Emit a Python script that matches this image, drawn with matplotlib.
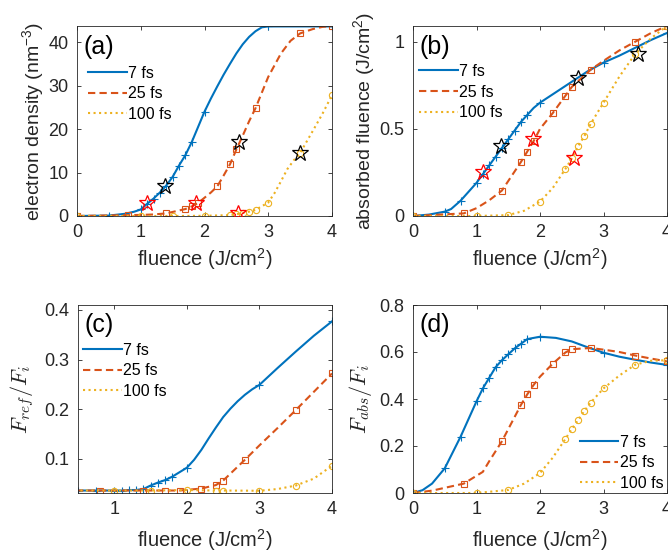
import numpy as np
import matplotlib
matplotlib.use("Agg")
import matplotlib.pyplot as plt

plt.rcParams['font.family'] = ['Liberation Sans', 'DejaVu Sans']
plt.rcParams['mathtext.fontset'] = 'cm'

blue = '#0072BD'
orange = '#D95319'
yellow = '#EDB120'
axcol = '#262626'
labels = ['7 fs', '25 fs', '100 fs']

# ---------------- (a) electron density ----------------
a7_x = [0, 0.5, 1.0, 1.1, 1.2, 1.3, 1.4, 1.5, 1.6, 1.7, 1.8, 2.0, 3.0, 4.0]
a7_y = [0, 0.1, 1.5, 2.8, 4.0, 5.4, 7.0, 9.0, 11.6, 14.0, 17.0, 24.0, 43.6, 43.6]
a7_cx = [0.75, 0.9, 1.9, 2.1, 2.2, 2.3, 2.4, 2.5, 2.6, 2.7, 2.8, 2.9]
a7_cy = [0.5, 1.0, 20.5, 27.0, 29.8, 32.5, 35.0, 37.4, 39.5, 41.2, 42.5, 43.4]

a25_x = [0, 0.8, 1.4, 1.7, 1.8, 1.9, 2.2, 2.4, 2.5, 2.8, 3.5, 4.0]
a25_y = [0, 0.2, 0.6, 1.6, 2.2, 3.0, 6.8, 11.9, 15.3, 24.8, 42.0, 43.7]
a25_cx = [1.0, 1.2, 2.0, 2.1, 2.3, 2.6, 2.7, 3.0, 3.2, 3.35, 3.7, 3.85]
a25_cy = [0.25, 0.35, 4.2, 5.4, 9.3, 18.5, 21.8, 32.0, 37.4, 40.3, 43.0, 43.5]

a100_x = [0, 1.0, 1.5, 2.0, 2.4, 2.5, 2.6, 2.7, 2.8, 3.0, 3.5, 4.0]
a100_y = [0, 0, 0, 0.05, 0.2, 0.4, 0.7, 1.0, 1.4, 3.1, 14.5, 27.8]
a100_cx = [3.1, 3.2, 3.3, 3.4, 3.7, 3.85]
a100_cy = [5.3, 8.0, 10.8, 12.8, 19.6, 23.5]

a_red_x = [1.1, 1.87, 2.53]
a_red_y = [3.1, 2.9, 0.8]
a_blk_x = [1.38, 2.54, 3.5]
a_blk_y = [7.0, 17.0, 14.5]

# ---------------- (b) absorbed fluence ----------------
b7_x = [0, 0.5, 0.75, 1.0, 1.1, 1.2, 1.3, 1.4, 1.5, 1.6, 1.7, 1.8, 2.0, 3.0, 4.0]
b7_y = [0, 0.025, 0.088, 0.19, 0.24, 0.29, 0.34, 0.39, 0.44, 0.49, 0.54, 0.58, 0.65, 0.88, 1.05]
b7_cx = [0.25, 0.6, 1.9, 2.25, 2.5, 2.75, 3.25, 3.5, 3.75]
b7_cy = [0.008, 0.04, 0.62, 0.71, 0.77, 0.83, 0.92, 0.965, 1.01]

b25_x = [0, 0.8, 1.4, 1.7, 1.8, 1.9, 2.2, 2.4, 2.5, 2.8, 3.5, 4.0]
b25_y = [0, 0.015, 0.146, 0.31, 0.37, 0.43, 0.59, 0.69, 0.74, 0.84, 1.0, 1.09]
b25_cx = [1.0, 1.2, 2.0, 2.65, 3.0, 3.25, 3.75]
b25_cy = [0.045, 0.09, 0.5, 0.79, 0.89, 0.95, 1.05]

b100_x = [0, 1.0, 1.5, 2.0, 2.4, 2.5, 2.6, 2.7, 2.8, 3.0, 3.5, 4.0]
b100_y = [0, 0, 0.005, 0.083, 0.27, 0.33, 0.40, 0.46, 0.53, 0.65, 0.93, 1.09]
b100_cx = [1.75, 2.2, 3.25, 3.75]
b100_cy = [0.03, 0.16, 0.8, 1.02]

b_red_x = [1.1, 1.89, 2.53]
b_red_y = [0.25, 0.44, 0.33]
b_blk_x = [1.38, 2.6, 3.54]
b_blk_y = [0.40, 0.79, 0.93]

# ---------------- (c) F_ref / F_i ----------------
c7_x = [0, 0.5, 0.75, 1.0, 1.1, 1.2, 1.3, 1.4, 1.5, 1.6, 1.7, 1.8, 2.0, 3.0, 4.0]
c7_y = [0.036, 0.036, 0.036, 0.036, 0.036, 0.037, 0.037, 0.039, 0.046, 0.052, 0.057, 0.064, 0.082, 0.249, 0.377]
c7_cx = [2.1, 2.2, 2.3, 2.4, 2.5, 2.6, 2.7, 2.8, 2.9, 3.25, 3.5, 3.75]
c7_cy = [0.098, 0.118, 0.141, 0.163, 0.184, 0.201, 0.216, 0.229, 0.24, 0.283, 0.316, 0.348]

c25_x = [0, 0.8, 1.4, 1.7, 1.9, 2.2, 2.4, 2.5, 2.8, 3.5, 4.0]
c25_y = [0.036, 0.036, 0.036, 0.036, 0.036, 0.040, 0.047, 0.056, 0.098, 0.198, 0.272]
c25_cx = [2.6, 3.0, 3.25, 3.75]
c25_cy = [0.07, 0.127, 0.162, 0.235]

c100_x = [0, 1.0, 1.5, 2.0, 2.4, 2.5, 3.0, 3.5, 4.0]
c100_y = [0.036, 0.036, 0.036, 0.037, 0.036, 0.036, 0.0355, 0.046, 0.086]
c100_cx = [3.25, 3.75]
c100_cy = [0.039, 0.06]

# ---------------- (d) F_abs / F_i ----------------
d7_x = [0, 0.5, 0.75, 1.0, 1.1, 1.2, 1.3, 1.4, 1.5, 1.6, 1.7, 1.8, 2.0, 3.0, 4.0]
d7_y = [0, 0.105, 0.24, 0.39, 0.445, 0.49, 0.535, 0.565, 0.59, 0.615, 0.635, 0.655, 0.665, 0.597, 0.545]
d7_cx = [0.15, 0.3, 0.9, 2.25, 2.5, 2.75, 3.25, 3.5, 3.75]
d7_cy = [0.012, 0.04, 0.33, 0.66, 0.645, 0.62, 0.58, 0.567, 0.555]

d25_x = [0, 0.8, 1.4, 1.7, 1.8, 1.9, 2.2, 2.4, 2.5, 2.8, 3.5, 4.0]
d25_y = [0, 0.04, 0.22, 0.375, 0.42, 0.46, 0.55, 0.598, 0.612, 0.617, 0.585, 0.56]
d25_cx = [0.3, 1.1, 1.2, 2.0, 3.0, 3.25, 3.75]
d25_cy = [0.01, 0.09, 0.135, 0.495, 0.61, 0.6, 0.572]

d100_x = [0, 1.0, 1.5, 2.0, 2.4, 2.5, 2.6, 2.7, 2.8, 3.0, 3.5, 4.0]
d100_y = [0, 0, 0.013, 0.085, 0.23, 0.272, 0.31, 0.35, 0.385, 0.445, 0.546, 0.565]
d100_cx = [1.75, 2.2, 3.25, 3.75]
d100_cy = [0.04, 0.15, 0.5, 0.563]


def merge(x, y, cx, cy):
    # line goes through the marker points and the extra points
    xx = np.array(list(x) + list(cx))
    yy = np.array(list(y) + list(cy))
    o = np.argsort(xx)
    return xx[o], yy[o]


def draw(ax, series):
    styles = [(blue, '-', '+', 6), (orange, '--', 's', 4), (yellow, ':', 'o', 4.5)]
    for (x, y, cx, cy), lab, (col, ls, mk, ms) in zip(series, labels, styles):
        lx, ly = merge(x, y, cx, cy)
        ln, = ax.plot(lx, ly, color=col, linestyle=ls, linewidth=1.5, label=lab)
        if ls == '--':
            ln.set_dashes((3.5, 2.0))
        ax.plot(x, y, linestyle='none', marker=mk, markersize=ms, color=col,
                markerfacecolor='none', markeredgewidth=0.8)


def stars(ax, rx, ry, kx, ky):
    ax.plot(rx, ry, linestyle='none', marker='*', markersize=12, markerfacecolor='none',
            markeredgecolor='red', markeredgewidth=0.9, zorder=5)
    ax.plot(kx, ky, linestyle='none', marker='*', markersize=12, markerfacecolor='none',
            markeredgecolor='black', markeredgewidth=0.9, zorder=5)


def style(ax):
    for s in ax.spines.values():
        s.set_color(axcol)
        s.set_linewidth(0.6)
    ax.tick_params(direction='in', top=True, right=True, length=3, width=0.6,
                   labelsize=13, colors=axcol, pad=6)


W, H = 668, 556
fig = plt.figure(figsize=(W / 100, H / 100), dpi=100)

axa = fig.add_axes([77 / W, 1 - 216 / H, 255 / W, 190 / H])
axb = fig.add_axes([413 / W, 1 - 216 / H, 254 / W, 190 / H])
axc = fig.add_axes([78 / W, 1 - 493 / H, 254 / W, 188 / H])
axd = fig.add_axes([413 / W, 1 - 493 / H, 254 / W, 188 / H])

draw(axa, [(a7_x, a7_y, a7_cx, a7_cy), (a25_x, a25_y, a25_cx, a25_cy), (a100_x, a100_y, a100_cx, a100_cy)])
stars(axa, a_red_x, a_red_y, a_blk_x, a_blk_y)
draw(axb, [(b7_x, b7_y, b7_cx, b7_cy), (b25_x, b25_y, b25_cx, b25_cy), (b100_x, b100_y, b100_cx, b100_cy)])
stars(axb, b_red_x, b_red_y, b_blk_x, b_blk_y)
draw(axc, [(c7_x, c7_y, c7_cx, c7_cy), (c25_x, c25_y, c25_cx, c25_cy), (c100_x, c100_y, c100_cx, c100_cy)])
draw(axd, [(d7_x, d7_y, d7_cx, d7_cy), (d25_x, d25_y, d25_cx, d25_cy), (d100_x, d100_y, d100_cx, d100_cy)])

axa.set_xlim(0, 4); axa.set_ylim(0, 43.7)
axa.set_xticks([0, 1, 2, 3, 4]); axa.set_yticks([0, 10, 20, 30, 40])
axb.set_xlim(0, 4); axb.set_ylim(0, 1.09)
axb.set_xticks([0, 1, 2, 3, 4]); axb.set_yticks([0, 0.5, 1]); axb.set_yticklabels(['0', '0.5', '1'])
axc.set_xlim(0.5, 4); axc.set_ylim(0.031, 0.41)
axc.set_xticks([1, 2, 3, 4]); axc.set_yticks([0.1, 0.2, 0.3, 0.4])
axd.set_xlim(0, 4); axd.set_ylim(0, 0.8)
axd.set_xticks([0, 1, 2, 3, 4]); axd.set_yticks([0, 0.2, 0.4, 0.6, 0.8])
axd.set_yticklabels(['0', '0.2', '0.4', '0.6', '0.8'])

xlab = r'fluence (J/cm$\mathregular{^2}$)'
for ax in (axa, axb, axc, axd):
    style(ax)
    ax.set_xlabel(xlab, fontsize=14.5, color=axcol)
axa.xaxis.set_label_coords(0.5, -0.16)
axb.xaxis.set_label_coords(0.5, -0.16)
axc.xaxis.set_label_coords(0.5, -0.18)
axd.xaxis.set_label_coords(0.5, -0.18)

axa.set_ylabel(r'electron density (nm$\mathregular{^{-3}}$)', fontsize=14, color=axcol)
axa.yaxis.set_label_coords(-0.122, 0.5)
axb.set_ylabel(r'absorbed fluence (J/cm$\mathregular{^2}$)', fontsize=14, color=axcol)
axb.yaxis.set_label_coords(-0.142, 0.5)
axc.set_ylabel(r'$F_{ref}/F_i$', fontsize=16, color=axcol)
axc.yaxis.set_label_coords(-0.165, 0.5)
axd.set_ylabel(r'$F_{abs}/F_i$', fontsize=16, color=axcol)
axd.yaxis.set_label_coords(-0.154, 0.5)

for ax, t in zip((axa, axb, axc, axd), ('(a)', '(b)', '(c)', '(d)')):
    ax.text(0.025, 0.955, t, transform=ax.transAxes, fontsize=18, va='top', ha='left', color='black')

legkw = dict(frameon=False, fontsize=11.5, handlelength=2.4, handletextpad=0.1,
             labelspacing=0.35, borderpad=0, borderaxespad=0)
axa.legend(loc='upper left', bbox_to_anchor=(0.045, 0.79), **legkw)
axb.legend(loc='upper left', bbox_to_anchor=(0.025, 0.80), **legkw)
axc.legend(loc='upper left', bbox_to_anchor=(0.021, 0.80), **legkw)
axd.legend(loc='upper left', bbox_to_anchor=(0.657, 0.31), **legkw)

fig.savefig('out.png', dpi=100)
